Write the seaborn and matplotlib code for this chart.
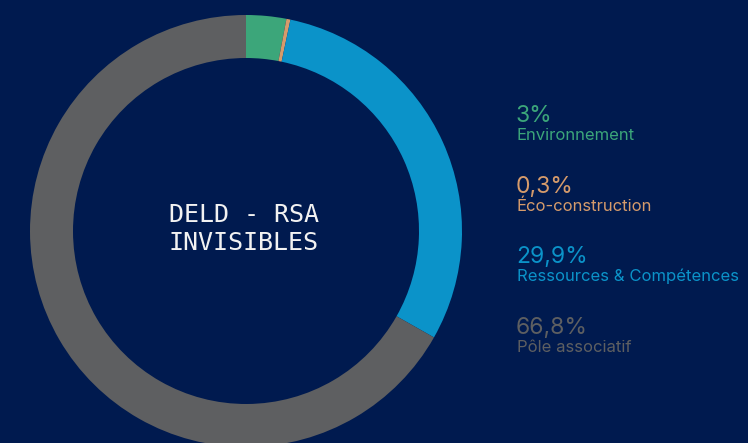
import seaborn as sns
import matplotlib.pyplot as plt

# ---------------- DATA ---------------- #
categories = ["Environnement", "Éco-construction", "Ressources & Compétences", "Pôle associatif"]
shares = [3.0, 0.3, 29.9, 66.8]
share_labels = ["3%", "0,3%", "29,9%", "66,8%"]
colors = ["#3ca67a", "#d69b6b", "#0b93c9", "#5e5f61"]
center_title = "DELD - RSA\nINVISIBLES"

BG = "#001a4f"

sns.set_style("white")
plt.rcParams["font.family"] = ["Inter", "DejaVu Sans"]

fig = plt.figure(figsize=(7.48, 4.43), dpi=100, facecolor=BG)
ax = fig.add_axes([0, 0, 1, 1])
ax.set_facecolor(BG)

# donut (pixel-like coordinates, y up)
cx, cy, r = 246, 443 - 231, 216
ax.pie(
    shares,
    colors=colors,
    startangle=90,
    counterclock=False,
    center=(cx, cy),
    radius=r,
    wedgeprops=dict(width=43, linewidth=0),
)
ax.set_xlim(0, 748)
ax.set_ylim(0, 443)
ax.set_aspect("auto")
ax.axis("off")

ax.text(cx - 2, cy + 2, center_title, ha="center", va="center",
        color="#f2f2f2", fontsize=18, family="DejaVu Sans Mono",
        linespacing=1.25)

# legend-like labels on the right
x0 = 516
for i, (lab, pct, col) in enumerate(zip(categories, share_labels, colors)):
    base = 443 - (122 + i * 70.5)
    ax.text(x0, base, pct, color=col, fontsize=16.5, va="baseline", ha="left")
    ax.text(x0 + 1, base - 18, lab, color=col, fontsize=12, va="baseline", ha="left")

fig.savefig("out.png", dpi=100, facecolor=BG)
